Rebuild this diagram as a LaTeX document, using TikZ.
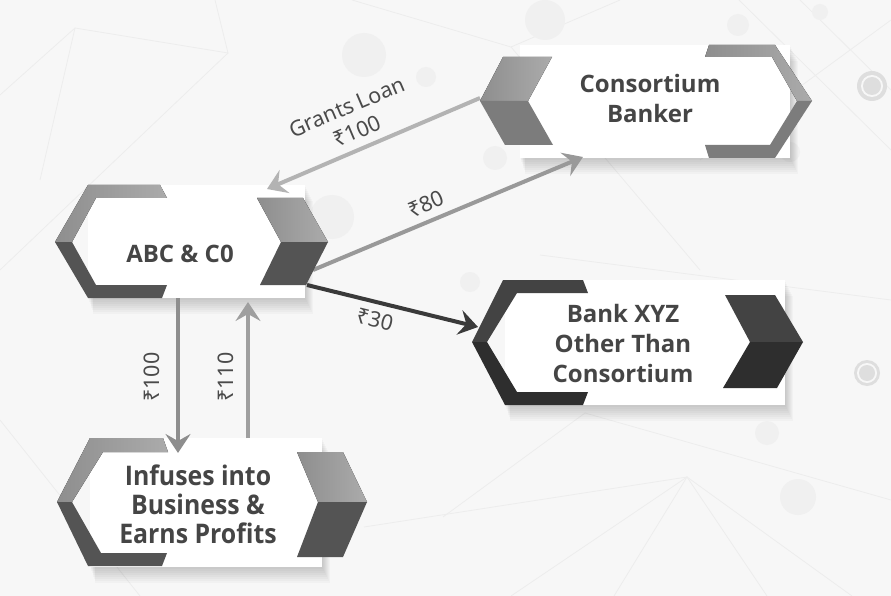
\documentclass[tikz,border=0pt]{standalone}
\usepackage{fontspec}
\setmainfont{Open Sans}
\newfontfamily\lblfont{Noto Sans}
\newfontfamily\condfont{Open Sans}[FakeStretch=0.92]
\usetikzlibrary{arrows.meta}
\definecolor{bg}{HTML}{F7F7F7}
\definecolor{web}{HTML}{EDEDED}
\definecolor{dot}{HTML}{F0F0F0}
\definecolor{ring}{HTML}{DEDEDE}
\definecolor{txt}{HTML}{454545}
\definecolor{lblc}{HTML}{4A4A4A}
\definecolor{lightA}{HTML}{8E8E8E}
\definecolor{lightB}{HTML}{ABABAB}
\definecolor{darkG}{HTML}{545454}
\definecolor{midG}{HTML}{7C7C7C}
\definecolor{blkA}{HTML}{434343}
\definecolor{blkB}{HTML}{2E2E2E}
\definecolor{arrLight}{HTML}{B3B3B3}
\definecolor{arrMid}{HTML}{999999}
\definecolor{arrDark}{HTML}{3A3A3A}
\definecolor{arrVert}{HTML}{8E8E8E}
\begin{document}
\begin{tikzpicture}[x=1pt,y=-1pt,
  panel/.style={fill=white},
  shade/.style={fill=black,fill opacity=0.022},
  upperpart/.style={left color=lightA,right color=lightB},
  lowerpart/.style={fill=darkG},
  flow/.style={line width=4pt,-{Stealth[length=19pt,width=25pt,inset=7pt]}},
  boxtext/.style={text=txt,font=\bfseries\fontsize{24}{30}\selectfont,align=center,inner sep=0pt},
  lbl/.style={text=lblc,font=\lblfont\fontsize{21.5}{25}\selectfont,align=center,inner sep=0pt}]
\useasboundingbox (0,0) rectangle (891,596);
\fill[bg] (0,0) rectangle (891,596);
% faint background web
\begin{scope}[draw=web,line width=0.8pt]
\draw (0,95)--(75,28)--(228,53)--(215,0);
\draw (228,53)--(0,270);
\draw (75,28)--(40,180);
\draw (352,0)--(511,47)--(620,0);
\draw (511,47)--(700,270);
\draw (739,0)--(891,150);
\draw (800,0)--(891,90);
\draw (891,20)--(700,160);
\draw (585,413)--(891,500);
\draw (443,517)--(585,413);
\draw (364,527)--(687,477);
\draw (687,477)--(511,596);
\draw (687,477)--(614,596);
\draw (687,477)--(767,596);
\draw (687,477)--(852,596);
\draw (0,420)--(140,596);
\draw (540,255)--(891,300);
\end{scope}
% faint dots
\foreach \cx/\cy/\r in {545/20/20,364/55/22,426/77/10,495/158/12,738/25/11,820/12/8,790/152/10,332/217/22,470/282/10,767/433/12,798/497/18}
  \fill[dot] (\cx,\cy) circle[radius=\r];
% target rings
\fill[ring] (872,86) circle[radius=15];
\fill[bg] (872,86) circle[radius=11];
\fill[ring] (872,86) circle[radius=9];
\fill[ring] (867,373) circle[radius=13];
\fill[bg] (867,373) circle[radius=10];
\fill[ring] (867,373) circle[radius=8];
% shadows
\foreach \k in {2,4,...,16}{
  \fill[shade] (88+\k/3,185+\k) rectangle (305+\k/2,298+\k);
  \fill[shade] (520+\k/3,45+\k) rectangle (790+\k/2,158+\k);
  \fill[shade] (505+\k/3,280+\k) rectangle (785+\k/2,405+\k);
  \fill[shade] (90+\k/3,438+\k) rectangle (322+\k/2,567+\k);
}
% white panels
\fill[panel] (88,185) rectangle (305,298);
\fill[panel] (520,45) rectangle (790,158);
\fill[panel] (505,280) rectangle (785,405);
\fill[panel] (90,438) rectangle (322,567);
% text nodes
\node[boxtext] (abc) at (180,254) {ABC \& C0};
\node[boxtext] (cb) at (650,99) {Consortium\\Banker};
\node[boxtext] (bank) at (623,343) {Bank XYZ\\Other Than\\Consortium};
\node[boxtext,font=\condfont\bfseries\fontsize{27}{29}\selectfont] (inf) at (198,504) {Infuses into\\Business \&\\Earns Profits};
% connector end points
\coordinate (cbW) at (480,98);
\coordinate (cbS) at (583,157);
\coordinate (abcNE) at (267,189);
\coordinate (abcE) at (313,270);
\coordinate (abcSE) at (307,285);
\coordinate (bankW) at (478,327);
\coordinate (abcS1) at (178,298);
\coordinate (abcS2) at (248,302);
\coordinate (infN1) at (178,453);
\coordinate (infN2) at (248,438);
% connectors
\draw[flow,arrLight] (cbW) -- (abcNE);
\draw[flow,arrMid] (abcE) -- (cbS);
\draw[flow,arrDark] (abcSE) -- (bankW);
\draw[flow,arrVert] (abcS1) -- (infN1);
\draw[flow,arrVert!85!white] (infN2) -- (abcS2);
% labels
\node[lbl,rotate=23] (lgrant) at (347,107) {Grants Loan};
\node[lbl,rotate=23] (lgrant2) at (357,131) {₹100};
\node[lbl,rotate=23] (l80) at (426,204) {₹80};
\node[lbl,rotate=-14] (l30) at (375,320) {₹30};
\node[lbl,rotate=90] (l100) at (152,377) {₹100};
\node[lbl,rotate=90] (l110) at (226,377) {₹110};
% ABC & C0 decorations
\fill[upperpart] (88,185) -- (160,185) -- (167,198) -- (96,198) -- (72,242) -- (55,242) -- cycle;
\fill[lowerpart] (55,242) -- (72,242) -- (96,285) -- (167,285) -- (162,298) -- (88,298) -- cycle;
\fill[upperpart] (257,198) -- (303,198) -- (328,242) -- (281,242) -- cycle;
\fill[lowerpart] (281,242) -- (328,242) -- (306,285) -- (260,285) -- cycle;
% Consortium Banker decorations
\fill[upperpart] (503,57) -- (552,57) -- (528,101) -- (480,101) -- cycle;
\fill[midG] (480,101) -- (528,101) -- (553,145) -- (505,145) -- cycle;
\fill[upperpart] (775,45) -- (709,45) -- (705,57) -- (772,57) -- (797,101) -- (812,101) -- cycle;
\fill[midG] (812,101) -- (797,101) -- (770,145) -- (705,145) -- (709,158) -- (775,158) -- cycle;
% Bank XYZ decorations
\fill[blkA] (583,280) -- (503,280) -- (472,342) -- (487,342) -- (517,293) -- (588,293) -- cycle;
\fill[blkB] (472,342) -- (505,405) -- (583,405) -- (588,392) -- (517,392) -- (487,342) -- cycle;
\fill[blkA] (725,295) -- (775,295) -- (803,342) -- (750,342) -- cycle;
\fill[blkB] (750,342) -- (803,342) -- (777,388) -- (723,388) -- cycle;
% Infuses decorations
\fill[upperpart] (163,438) -- (90,438) -- (57,502) -- (72,502) -- (103,452) -- (168,452) -- cycle;
\fill[lowerpart] (57,502) -- (88,566) -- (162,566) -- (167,553) -- (101,553) -- (72,502) -- cycle;
\fill[upperpart] (297,452) -- (343,452) -- (367,502) -- (318,502) -- cycle;
\fill[lowerpart] (318,502) -- (367,502) -- (343,557) -- (297,557) -- cycle;
\end{tikzpicture}
\end{document}
